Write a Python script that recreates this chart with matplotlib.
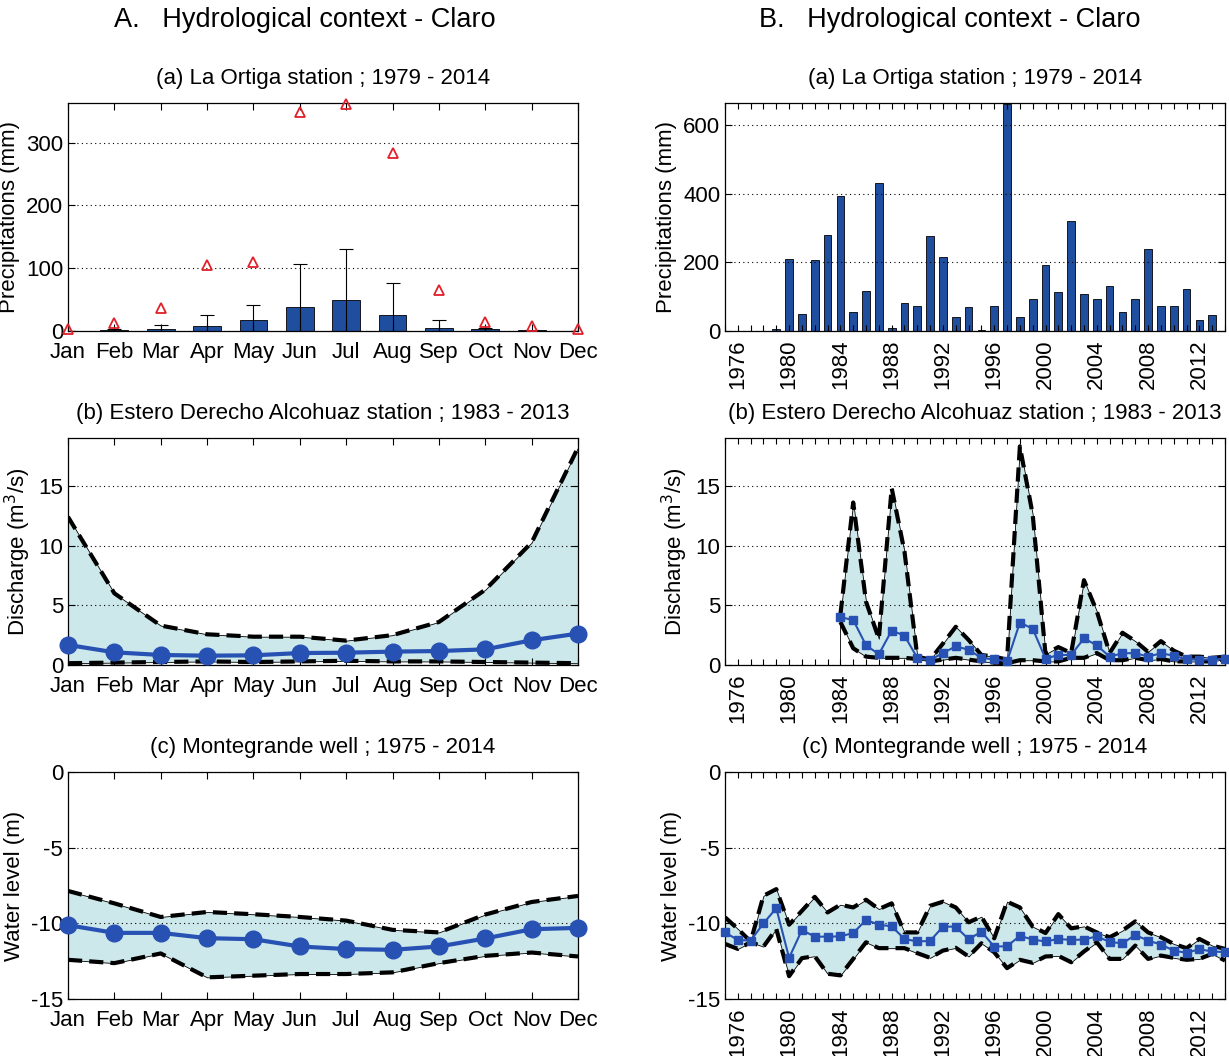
import numpy as np
import matplotlib
matplotlib.use("Agg")
import matplotlib.pyplot as plt

plt.rcParams['font.family'] = ['Liberation Sans', 'DejaVu Sans']
plt.rcParams['axes.unicode_minus'] = False

# ---- data ----
months = ['Jan', 'Feb', 'Mar', 'Apr', 'May', 'Jun', 'Jul', 'Aug', 'Sep', 'Oct', 'Nov', 'Dec']

# monthly precipitation (mm) La Ortiga
prec_mean = [0, 1, 3, 8, 17, 39, 49, 25, 5, 2.5, 1, 0]
prec_std = [0, 2.5, 6, 18, 24, 68, 81, 52, 12.5, 2.5, 0.5, 0]
prec_max = [3, 13, 37, 105, 110, 348, 361, 283, 65, 15, 8, 3]

# monthly discharge (m3/s) Estero Derecho Alcohuaz
dis_m_max = [12.4, 6.0, 3.3, 2.57, 2.37, 2.37, 2.04, 2.5, 3.6, 6.3, 10.25, 18.2]
dis_m_mean = [1.68, 1.06, 0.84, 0.78, 0.81, 1.0, 1.03, 1.12, 1.17, 1.31, 2.07, 2.63]
dis_m_min = [0.15, 0.2, 0.25, 0.3, 0.25, 0.3, 0.35, 0.3, 0.3, 0.25, 0.2, 0.15]

# monthly water level (m) Montegrande well
wl_m_max = [-7.86, -8.68, -9.58, -9.25, -9.4, -9.58, -9.82, -10.43, -10.6, -9.42, -8.59, -8.19]
wl_m_mean = [-10.12, -10.63, -10.63, -10.98, -11.05, -11.53, -11.7, -11.75, -11.53, -11.0, -10.39, -10.3]
wl_m_min = [-12.41, -12.63, -11.99, -13.57, -13.46, -13.35, -13.35, -13.24, -12.63, -12.15, -11.93, -12.19]

# annual precipitation 1979-2013
prec_years = list(range(1979, 2014))
prec_annual = [7, 210, 49, 207, 279, 395, 56, 118, 433, 8, 82, 72, 278, 217, 40, 70, 4, 74,
               663, 40, 92, 192, 113, 320, 109, 94, 130, 54, 93, 240, 74, 74, 123, 33, 48]

# annual discharge 1984-2014
dis_years = list(range(1984, 2015))
dis_a_max = [4.2, 13.6, 5.3, 2.2, 14.8, 9.5, 0.7, 0.45, 1.8, 3.2, 2.1, 0.84, 0.7, 0.45,
             18.3, 12.6, 0.9, 1.5, 1.0, 7.1, 4.5, 1.0, 2.7, 2.0, 1.1, 2.0, 1.2, 0.7, 0.7, 0.6, 0.7]
dis_a_mean = [4.0, 3.77, 1.65, 0.9, 2.88, 2.46, 0.59, 0.42, 1.0, 1.56, 1.28, 0.59, 0.47, 0.3,
              3.55, 3.04, 0.53, 0.84, 0.84, 2.23, 1.65, 0.7, 0.98, 1.0, 0.7, 0.98, 0.78, 0.47, 0.45, 0.45, 0.53]
dis_a_min = [3.6, 1.4, 0.7, 0.6, 0.6, 0.6, 0.5, 0.3, 0.45, 0.6, 0.45, 0.3, 0.2, 0.15,
             0.4, 0.4, 0.3, 0.3, 0.6, 0.6, 1.0, 0.4, 0.4, 0.6, 0.4, 0.5, 0.3, 0.3, 0.3, 0.3, 0.5]

# annual water level 1975-2014
wl_years = list(range(1975, 2015))
wl_a_mean = [-10.6, -11.1, -11.14, -10.0, -9.0, -12.28, -10.44, -10.88, -10.88, -10.86, -10.64,
             -9.78, -10.09, -10.2, -11.03, -11.2, -11.16, -10.22, -10.22, -11.05, -10.55, -11.54,
             -11.51, -10.83, -11.07, -11.2, -11.03, -11.1, -11.07, -10.86, -11.23, -11.32, -10.77,
             -11.14, -11.4, -11.8, -11.95, -11.71, -11.86, -11.9]
wl_a_max = [-9.6, -10.37, -11.2, -8.18, -7.74, -10.09, -9.17, -8.25, -9.28, -8.77, -8.95,
            -8.44, -9.06, -8.68, -10.6, -10.6, -8.84, -8.57, -8.95, -9.93, -9.56, -10.99,
            -8.57, -8.95, -10.22, -10.64, -9.39, -10.33, -10.2, -10.6, -10.92, -10.48, -9.87,
            -10.6, -10.92, -11.36, -11.64, -11.03, -11.47, -11.69]
wl_a_min = [-11.36, -11.69, -11.25, -11.54, -10.37, -13.49, -12.3, -12.17, -13.33, -13.44, -12.35,
            -11.25, -11.64, -11.64, -11.64, -11.97, -12.28, -11.8, -11.62, -12.19, -11.32, -11.91,
            -12.96, -12.41, -12.61, -12.19, -12.15, -12.57, -11.86, -11.25, -12.35, -12.35, -11.47,
            -12.35, -12.13, -12.28, -12.41, -12.35, -12.02, -12.46]

year_ticks = list(range(1976, 2013, 4))

# ---- style ----
BAR = '#1f4e9e'
LINE = '#2751b3'
FILL = '#cce8ea'
W, H = 1229, 1056
FS = 16


def frame(ax):
    ax.tick_params(direction='in', top=True, right=True, length=5, labelsize=FS, width=0.8)
    ax.tick_params(axis='x', pad=8)
    ax.yaxis.grid(True, linestyle=(0, (1, 3)), color='k', linewidth=0.8)
    ax.set_axisbelow(False)
    for s in ax.spines.values():
        s.set_linewidth(0.9)


def band(ax, x, lo, mid, hi, big):
    ax.fill_between(x, lo, hi, facecolor=FILL, edgecolor='k', linewidth=0.6, zorder=1)
    ax.plot(x, hi, color='k', lw=3, dashes=(3.4, 1.7), zorder=2)
    ax.plot(x, lo, color='k', lw=3, dashes=(3.4, 1.7), zorder=2)
    if big:
        ax.plot(x, mid, color=LINE, lw=3, marker='o', ms=12, zorder=3, clip_on=False)
    else:
        ax.plot(x, mid, color=LINE, lw=1.5, marker='s', ms=6, zorder=3, clip_on=False)


fig = plt.figure(figsize=(W / 100, H / 100), dpi=100)

lx0, lx1 = 68, 578
rx0, rx1 = 725, 1225
rows = [(103, 331), (438, 665), (772, 999)]


def mk(x0, x1, row):
    t, b = row
    return fig.add_axes([x0 / W, 1 - b / H, (x1 - x0) / W, (b - t) / H])


axes_l = [mk(lx0, lx1, r) for r in rows]
axes_r = [mk(rx0, rx1, r) for r in rows]
mx = np.arange(1, 13)

# --- A (a)
ax = axes_l[0]
ax.bar(mx, prec_mean, width=0.6, color=BAR, edgecolor='k', linewidth=0.6, zorder=2)
ax.errorbar(mx, prec_mean, yerr=prec_std, fmt='none', ecolor='k', elinewidth=0.8,
            capsize=5, capthick=0.8, zorder=3)
ax.plot(mx, prec_max, linestyle='none', marker='^', ms=7, mfc='none', mec='#e0202a',
        mew=1.3, zorder=4, clip_on=False)
ax.set_ylim(0, 363)
ax.set_yticks([0, 100, 200, 300])
ax.set_ylabel('Precipitations (mm)', fontsize=FS)
ax.set_title('(a) La Ortiga station ; 1979 - 2014', fontsize=FS, pad=14)

# --- A (b)
ax = axes_l[1]
band(ax, mx, dis_m_min, dis_m_mean, dis_m_max, True)
ax.set_ylim(0, 19)
ax.set_yticks([0, 5, 10, 15])
ax.set_ylabel('Discharge (m$^3$/s)', fontsize=FS)
ax.set_title('(b) Estero Derecho Alcohuaz station ; 1983 - 2013', fontsize=FS, pad=14)

# --- A (c)
ax = axes_l[2]
band(ax, mx, wl_m_min, wl_m_mean, wl_m_max, True)
ax.set_ylim(-15, 0)
ax.set_yticks([0, -5, -10, -15])
ax.set_ylabel('Water level (m)', fontsize=FS)
ax.set_title('(c) Montegrande well ; 1975 - 2014', fontsize=FS, pad=14)

for ax in axes_l:
    ax.set_xlim(1, 12)
    ax.set_xticks(mx)
    ax.set_xticklabels(months)
    frame(ax)

# --- B (a)
ax = axes_r[0]
ax.bar(prec_years, prec_annual, width=0.6, color=BAR, edgecolor='k', linewidth=0.6, zorder=2)
ax.set_ylim(0, 665)
ax.set_yticks([0, 200, 400, 600])
ax.set_ylabel('Precipitations (mm)', fontsize=FS)
ax.set_title('(a) La Ortiga station ; 1979 - 2014', fontsize=FS, pad=14)

# --- B (b)
ax = axes_r[1]
band(ax, dis_years, dis_a_min, dis_a_mean, dis_a_max, False)
ax.vlines(dis_years[0], 0, dis_a_min[0], color='k', lw=0.6)
ax.set_ylim(0, 19)
ax.set_yticks([0, 5, 10, 15])
ax.set_ylabel('Discharge (m$^3$/s)', fontsize=FS)
ax.set_title('(b) Estero Derecho Alcohuaz station ; 1983 - 2013', fontsize=FS, pad=14)

# --- B (c)
ax = axes_r[2]
band(ax, wl_years, wl_a_min, wl_a_mean, wl_a_max, False)
ax.set_ylim(-15, 0)
ax.set_yticks([0, -5, -10, -15])
ax.set_ylabel('Water level (m)', fontsize=FS)
ax.set_title('(c) Montegrande well ; 1975 - 2014', fontsize=FS, pad=14)

for ax in axes_r:
    ax.set_xlim(1975, 2014)
    ax.set_xticks(wl_years)
    ax.set_xticklabels([str(y) if y in year_ticks else '' for y in wl_years], rotation=90)
    frame(ax)
    ax.tick_params(axis='x', length=4, pad=6)

fig.text(305 / W, 1 - 20 / H, 'A.   Hydrological context - Claro', ha='center', va='center', fontsize=19.5)
fig.text(950 / W, 1 - 20 / H, 'B.   Hydrological context - Claro', ha='center', va='center', fontsize=19.5)

fig.savefig('out.png', dpi=100)
